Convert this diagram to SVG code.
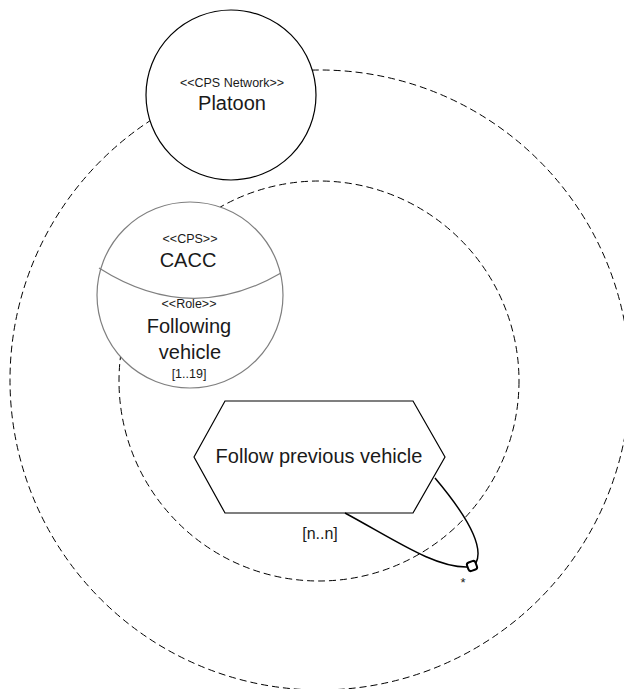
<svg xmlns="http://www.w3.org/2000/svg" width="624" height="689" viewBox="0 0 624 689">
  <style>
    text { font-family: "Liberation Sans", Arial, sans-serif; fill: #1a1a1a; text-anchor: middle; }
    .scope { fill: none; stroke: #000; stroke-width: 1; stroke-dasharray: 7 4; }
    .big { font-size: 20px; }
    .small { font-size: 12.5px; }
    .conn { fill: none; stroke: #000; stroke-width: 1.5; }
  </style>
  <rect width="624" height="689" fill="#fff"/>

  <!-- scope boundaries -->
  <g id="scopes">
    <circle class="scope" cx="320" cy="380" r="310"/>
    <circle class="scope" cx="319" cy="381" r="200"/>
  </g>

  <!-- CPS network -->
  <g id="platoon">
    <circle cx="231" cy="95" r="85" fill="#fff" stroke="#000" stroke-width="1.2"/>
    <text class="small" x="232" y="87">&lt;&lt;CPS Network&gt;&gt;</text>
    <text class="big" x="232" y="110">Platoon</text>
  </g>

  <!-- CPS with role -->
  <g id="cacc">
    <circle cx="190" cy="295" r="93" fill="#fff" stroke="#7f7f7f" stroke-width="1.2"/>
    <path d="M 99 268 Q 190 326 281 273" fill="none" stroke="#7f7f7f" stroke-width="1.2"/>
    <text class="small" x="190" y="243">&lt;&lt;CPS&gt;&gt;</text>
    <text class="big" x="188" y="267">CACC</text>
    <text class="small" x="189" y="308">&lt;&lt;Role&gt;&gt;</text>
    <text class="big" x="189" y="333">Following</text>
    <text class="big" x="190" y="359">vehicle</text>
    <text class="small" x="189" y="378">[1..19]</text>
  </g>

  <!-- behaviour -->
  <g id="follow">
    <polygon points="194,457 225,401 413,401 445,457 413,513 225,513" fill="#fff" stroke="#000" stroke-width="1.2"/>
    <text class="big" x="319" y="463">Follow previous vehicle</text>
  </g>

  <!-- self connector -->
  <g id="connectors">
    <path class="conn" d="M 345 513 C 395 540, 435 568, 468 567"/>
    <path class="conn" d="M 435 478 C 462 510, 485 545, 476 563"/>
    <rect x="467.5" y="561.5" width="9" height="9" rx="2.5" fill="#fff" stroke="#000" stroke-width="2" transform="rotate(-20 472 566)"/>
    <text style="font-size:16px" x="320" y="539">[n..n]</text>
    <text style="font-size:13px" x="463" y="587">*</text>
  </g>
</svg>
